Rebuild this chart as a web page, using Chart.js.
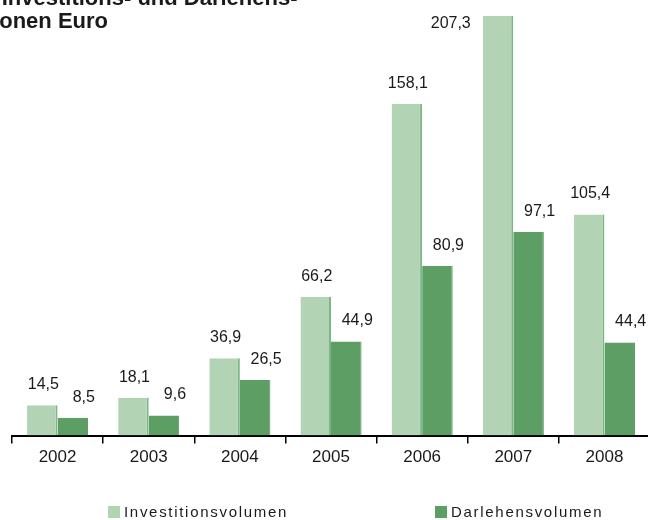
<!DOCTYPE html>
<html>
<head>
<meta charset="utf-8">
<script src="https://cdn.jsdelivr.net/npm/chart.js@4.4.1/dist/chart.umd.min.js"></script>
<style>
    html, body { margin: 0; padding: 0; width: 648px; height: 520px; overflow: hidden; background: #fff; }
    #wrap { position: absolute; left: 0; top: 0; width: 662px; height: 520px; }
    #title {
        position: absolute; left: -178px; top: -14px; white-space: pre;
        font: bold 22px "Liberation Sans", Arial, sans-serif; line-height: 23px; color: #1a1a1a;
    }
    #legend { position: absolute; top: 503px; left: 0; width: 648px; height: 18px;
        font: 15px "Liberation Sans", Arial, sans-serif; letter-spacing: 1.7px; color: #1a1a1a; }
    .item { position: absolute; top: 0; white-space: nowrap; line-height: 18px; }
    .box { display: inline-block; width: 12px; height: 12px; margin-right: 4px; vertical-align: -1px; }
</style>
</head>
<body>
<div id="wrap"><canvas id="chart" width="662" height="520"></canvas></div>
<div id="title"></div>
<div id="legend"></div>
<script>
// Werte aus der Grafik (Millionen Euro)
const titleLines = ['Entwicklung des Investitions- und Darlehens-', 'volumens in Millionen Euro'];
const years = ['2002', '2003', '2004', '2005', '2006', '2007', '2008'];
const seriesNames = ['Investitionsvolumen', 'Darlehensvolumen'];
const investition = [14.5, 18.1, 36.9, 66.2, 158.1, 207.3, 105.4];
const darlehen = [8.5, 9.6, 26.5, 44.9, 80.9, 97.1, 44.4];
const yMax = 200;

const fillColors = ['#b3d3b5', '#5c9e64'];
const edgeColors = ['#7ab784', '#4d9056'];
const labelShift = [1, 11];

document.getElementById('title').textContent = titleLines.join('\n');

// Legende als HTML, damit die Abstände wie im Original sind
const legendX = [108, 435];
const legend = document.getElementById('legend');
seriesNames.forEach((name, i) => {
    let item = document.createElement('div');
    item.className = 'item';
    item.style.left = legendX[i] + 'px';
    let box = document.createElement('span');
    box.className = 'box';
    box.style.background = fillColors[i];
    item.appendChild(box);
    item.appendChild(document.createTextNode(name));
    legend.appendChild(item);
});

const valueLabels = {
    id: 'valueLabels',
    afterDatasetsDraw(chart) {
        const ctx = chart.ctx;
        const area = chart.chartArea;
        ctx.save();
        ctx.font = '16px "Liberation Sans", Arial, sans-serif';
        ctx.fillStyle = '#1a1a1a';
        ctx.textAlign = 'center';
        ctx.textBaseline = 'alphabetic';
        chart.data.datasets.forEach((ds, di) => {
            chart.getDatasetMeta(di).data.forEach((bar, i) => {
                const v = ds.data[i];
                const text = v.toFixed(1).replace('.', ',');
                if (v > yMax) {
                    // abgeschnittener Balken: Wert links daneben
                    ctx.fillText(text, bar.x - bar.width / 2 - 32, area.top + 12);
                } else {
                    ctx.fillText(text, bar.x + labelShift[di], bar.y - 16);
                }
            });
        });
        ctx.restore();
    }
};

const chart = new Chart(document.getElementById('chart'), {
    type: 'bar',
    data: {
        labels: years,
        datasets: [
            {
                label: seriesNames[0],
                data: investition,
                backgroundColor: fillColors[0],
                borderColor: edgeColors[0],
                borderWidth: { right: 2, top: 0, left: 0, bottom: 0 },
                borderSkipped: false,
                barPercentage: 1,
                categoryPercentage: 0.67
            },
            {
                label: seriesNames[1],
                data: darlehen,
                backgroundColor: fillColors[1],
                borderColor: edgeColors[1],
                borderWidth: { right: 1, top: 0, left: 0, bottom: 0 },
                borderSkipped: false,
                barPercentage: 1,
                categoryPercentage: 0.67
            }
        ]
    },
    options: {
        responsive: false,
        animation: false,
        layout: { padding: { left: 12, right: 12, top: 16, bottom: 48 } },
        plugins: {
            legend: { display: false },
            tooltip: { enabled: false }
        },
        scales: {
            y: {
                display: false,
                min: 0,
                max: yMax
            },
            x: {
                offset: true,
                border: { display: true, color: '#000', width: 2 },
                grid: {
                    offset: true,
                    drawOnChartArea: false,
                    drawTicks: true,
                    tickLength: 8,
                    color: '#000',
                    lineWidth: 1.5
                },
                ticks: {
                    color: '#1a1a1a',
                    padding: 4,
                    font: { family: '"Liberation Sans", Arial, sans-serif', size: 17 }
                }
            }
        }
    },
    plugins: [valueLabels]
});
</script>
</body>
</html>
